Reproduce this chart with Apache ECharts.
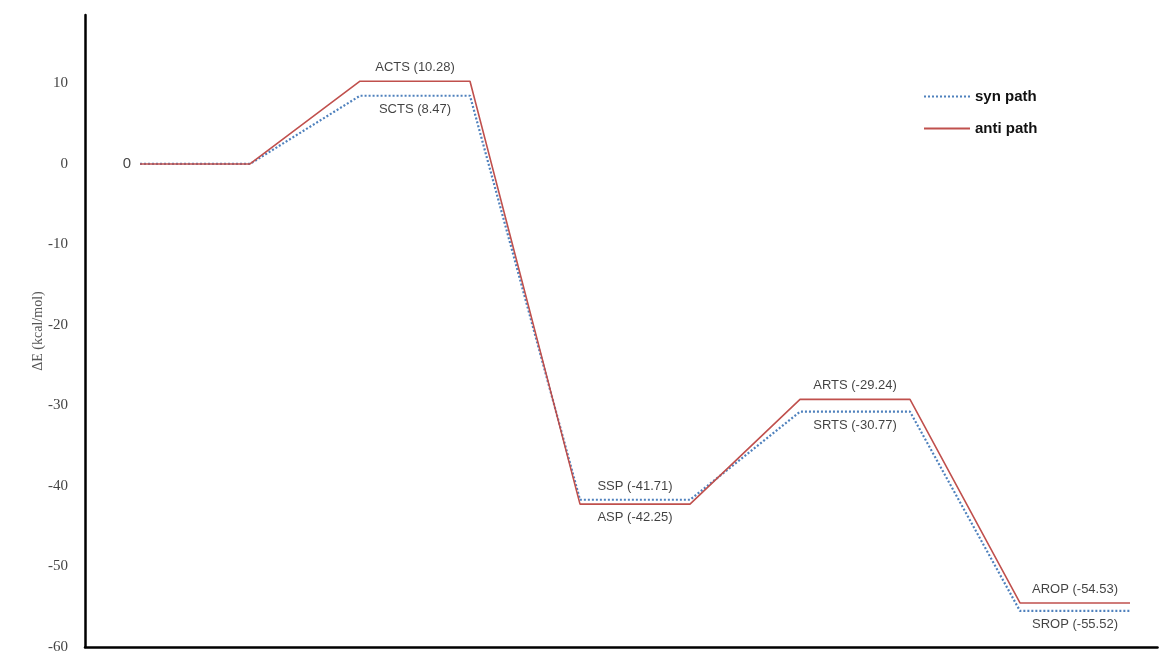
<!DOCTYPE html>
<html>
<head>
<meta charset="utf-8">
<script src="https://cdn.jsdelivr.net/npm/echarts@6/dist/echarts.min.js"></script>
<style>html,body{margin:0;padding:0;background:#fff}#c{width:1166px;height:655px}</style>
</head>
<body>
<div id="c"></div>
<script>
// ---- data ----
const stages = ['R', 'CTS', 'SP', 'RTS', 'ROP'];
const synNames = ['', 'SCTS', 'SSP', 'SRTS', 'SROP'];
const antiNames = ['0', 'ACTS', 'ASP', 'ARTS', 'AROP'];
const synPath = [0, 8.47, -41.71, -30.77, -55.52];
const antiPath = [0, 10.28, -42.25, -29.24, -54.53];
const yTicks = [-60, -50, -40, -30, -20, -10, 0, 10];
const seriesNames = ['syn path', 'anti path'];

// ---- build ----
function levelLine(vals) {
  const d = [];
  vals.forEach((v, i) => { d.push([2 * i, v]); d.push([2 * i + 1, v]); });
  return d;
}
function labelPoints(vals, names, other) {
  return vals.map((v, i) => {
    let pos;
    if (i === 0) pos = 'left';
    else pos = v >= other[i] ? 'top' : 'bottom';
    const isStart = i === 0;
    return {
      value: isStart ? [0, v] : [2 * i + 0.5, v],
      name: names[i],
      label: {
        show: names[i] !== '',
        position: pos,
        distance: isStart ? 9 : 7,
        fontSize: isStart ? 15 : 13,
        color: '#111',
        formatter: isStart ? names[i] : names[i] + ' (' + v.toFixed(2) + ')'
      }
    };
  });
}

const RED = '#C0504D', BLUE = '#4F81BD';
const chart = echarts.init(document.getElementById('c'), null, {renderer: 'canvas'});
chart.setOption({
  animation: false,
  backgroundColor: '#fff',
  textStyle: {fontFamily: 'Liberation Sans, Arial, sans-serif'},
  grid: {left: 85, right: 8.5, top: 15, bottom: 8},
  legend: {
    orient: 'vertical', left: 918, top: 84, itemGap: 17,
    itemWidth: 46, itemHeight: 14,
    itemStyle: {opacity: 0},
    textStyle: {fontSize: 15, fontWeight: 'bold', color: '#111', fontFamily: 'Liberation Sans, Arial, sans-serif'},
    data: seriesNames
  },
  xAxis: {
    type: 'value', min: -0.5, max: 9.25,
    axisLine: {show: true, onZero: false, lineStyle: {color: '#000', width: 2.5}},
    axisTick: {show: false}, axisLabel: {show: false}, splitLine: {show: false}
  },
  yAxis: {
    type: 'value', min: -60, max: 18.5, interval: 10,
    name: 'ΔE (kcal/mol)', nameLocation: 'middle', nameGap: 40, nameRotate: 90,
    nameMoveOverlap: false,
    nameTextStyle: {fontFamily: 'Liberation Serif, serif', fontSize: 14, color: '#555'},
    axisLine: {show: true, onZero: false, lineStyle: {color: '#000', width: 2.5}},
    axisTick: {show: false}, splitLine: {show: false},
    axisLabel: {
      margin: 17, fontFamily: 'Liberation Serif, serif', fontSize: 15, color: '#444',
      formatter: v => yTicks.indexOf(v) >= 0 ? String(v) : ''
    }
  },
  series: [
    {
      name: seriesNames[0], type: 'line', symbol: 'none', z: 2,
      data: levelLine(synPath),
      lineStyle: {color: BLUE, width: 2.2, type: [2, 2]},
      itemStyle: {color: BLUE}
    },
    {
      name: seriesNames[1], type: 'line', symbol: 'none', z: 3,
      data: levelLine(antiPath),
      lineStyle: {color: RED, width: 1.6, type: 'solid'},
      itemStyle: {color: RED}
    },
    {
      type: 'scatter', symbolSize: 0, silent: true,
      data: labelPoints(synPath, synNames, antiPath)
    },
    {
      type: 'scatter', symbolSize: 0, silent: true,
      data: labelPoints(antiPath, antiNames, synPath)
    }
  ]
});
</script>
</body>
</html>
